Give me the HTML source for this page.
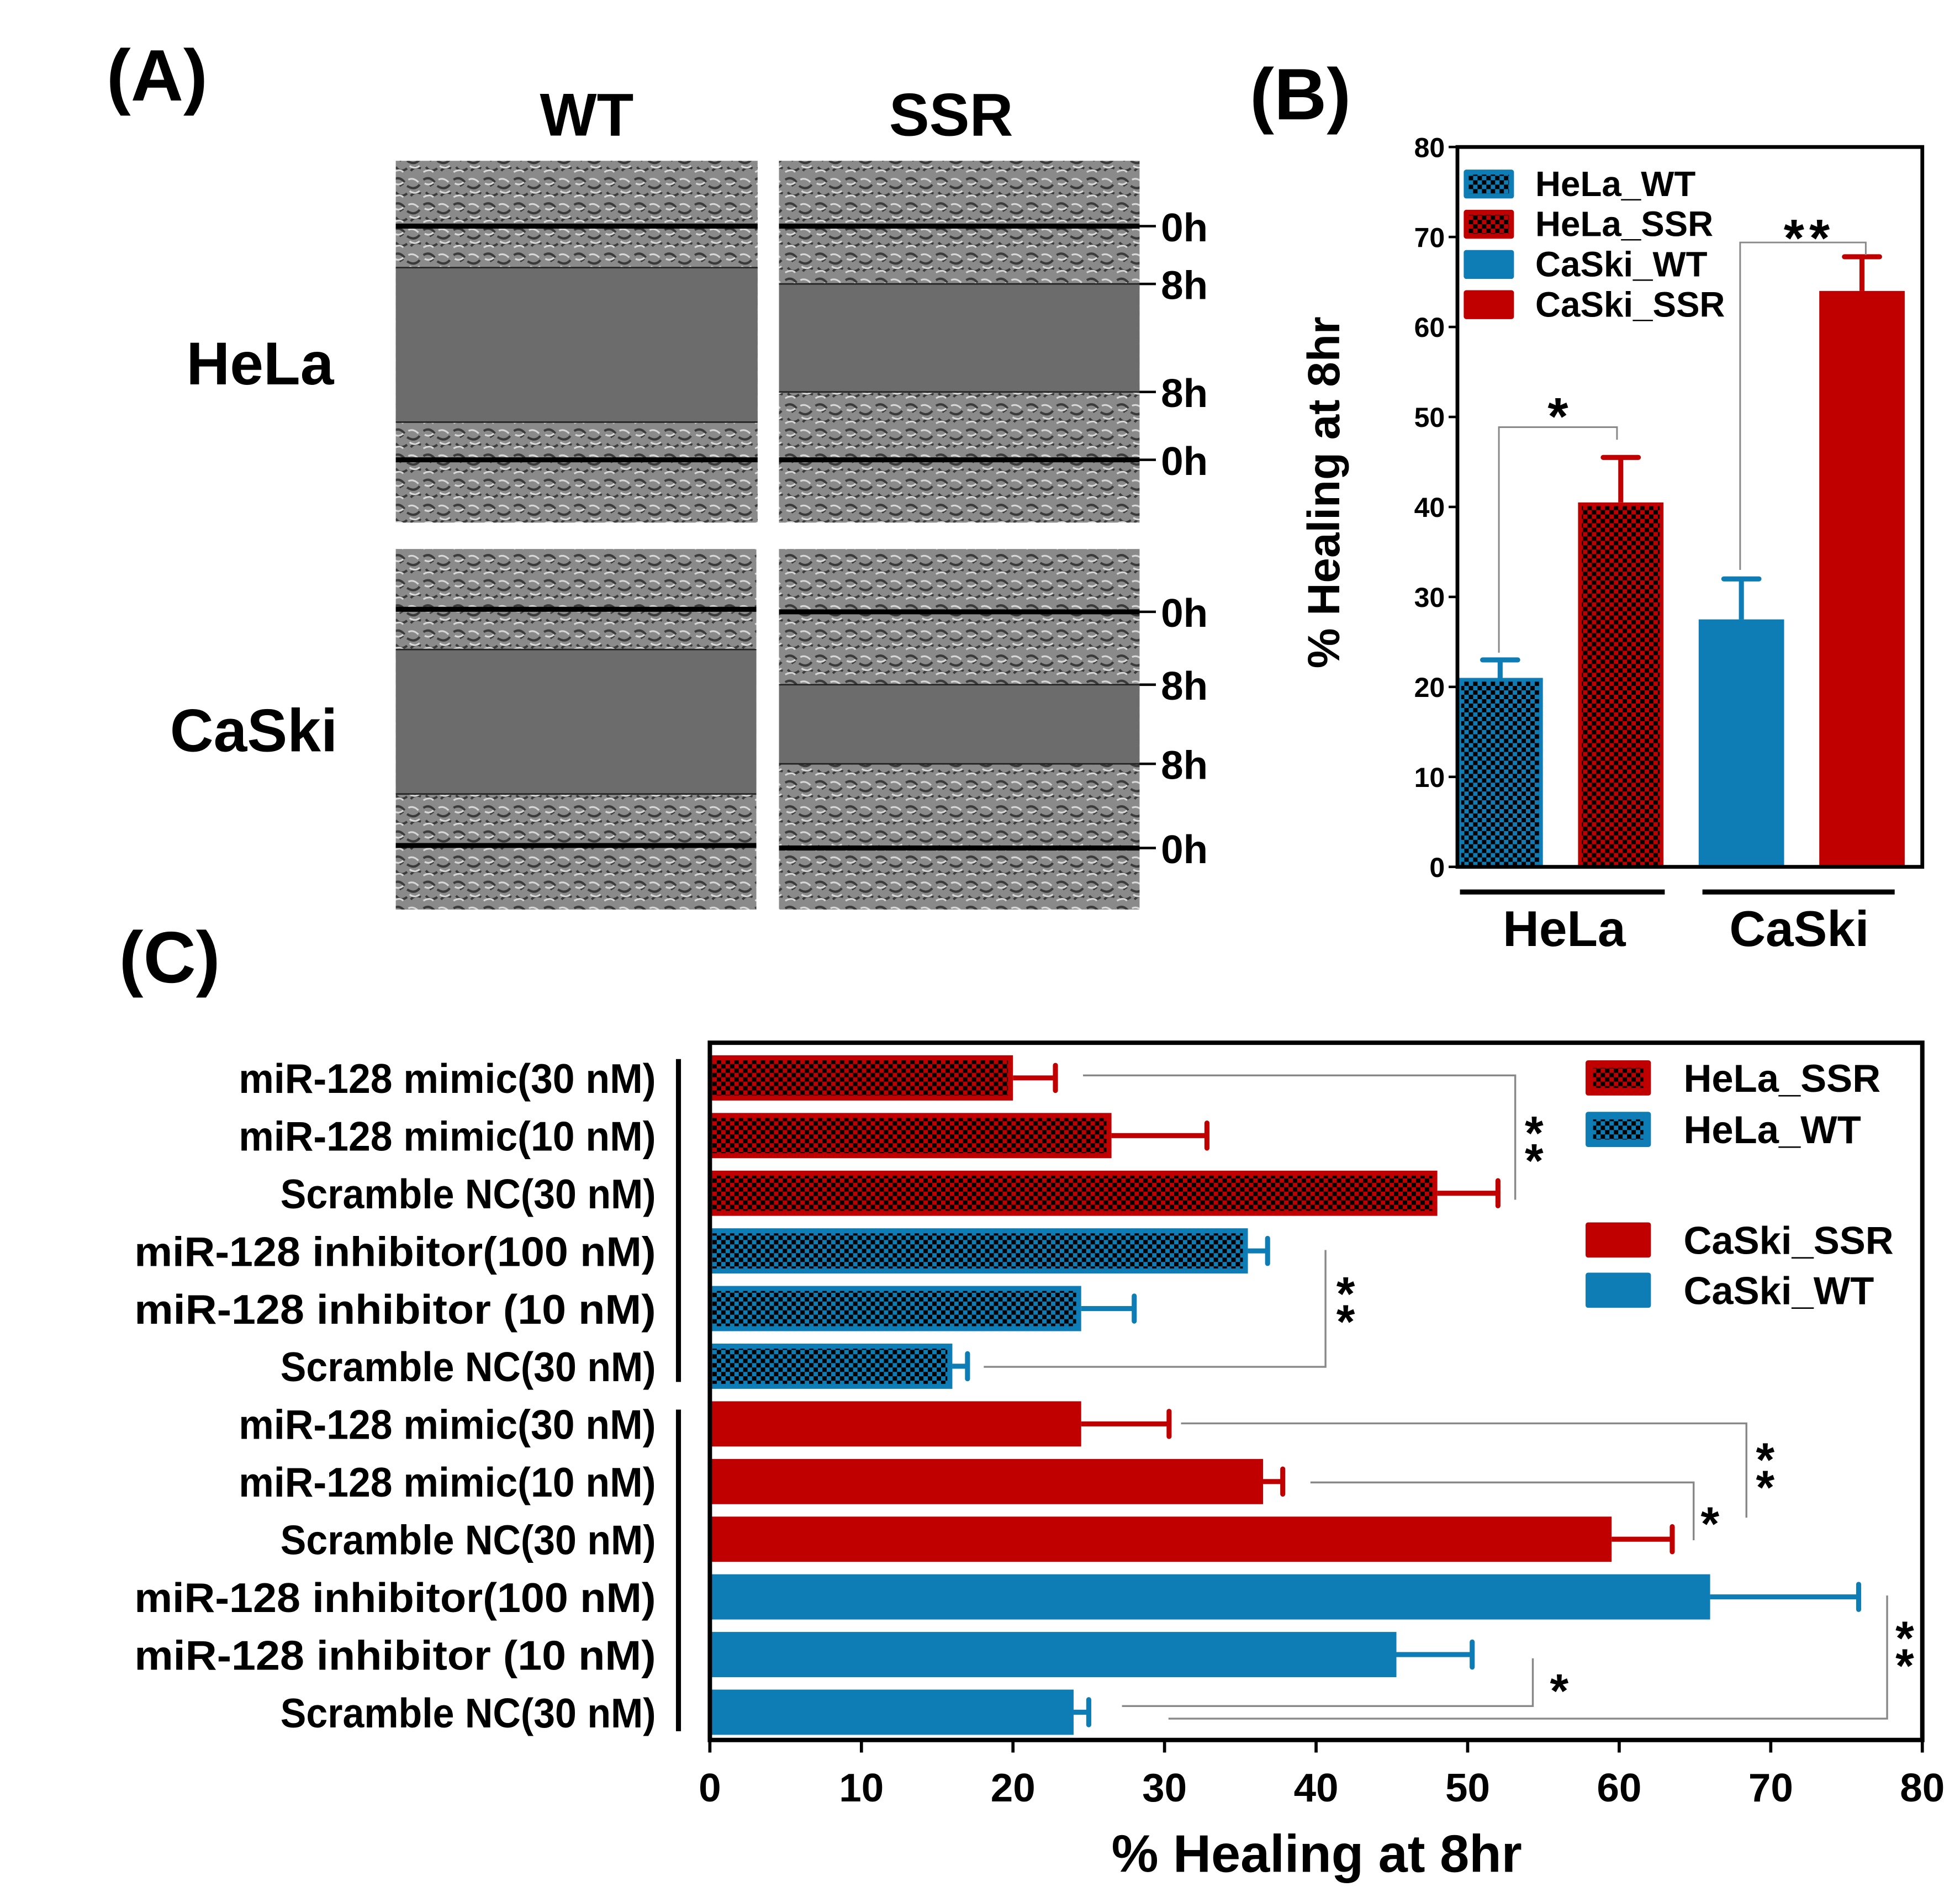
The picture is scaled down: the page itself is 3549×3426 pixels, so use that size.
<!DOCTYPE html>
<html><head><meta charset="utf-8">
<style>
html,body{margin:0;padding:0;background:#fff;}
svg{display:block;font-family:"Liberation Sans",sans-serif;font-weight:bold;}
</style></head>
<body>
<svg id="fig" width="3549" height="3426" viewBox="0 0 1560 1506" preserveAspectRatio="none" xmlns="http://www.w3.org/2000/svg">
<defs>
<pattern id="chkB" width="7" height="7" patternUnits="userSpaceOnUse"><rect x="0" y="0" width="3.5" height="3.5" fill="#000"/><rect x="3.5" y="3.5" width="3.5" height="3.5" fill="#000"/></pattern>
<pattern id="cells" width="24" height="20" patternUnits="userSpaceOnUse">
<rect width="24" height="20" fill="#8a8a8a"/>
<path d="M1 3 q5 -3 9 2 M12 8 q6 4 10 -1 M3 13 q4 5 9 1 M15 16 q3 -4 8 -2 M6 8 l3 -2" stroke="#3a3a3a" stroke-width="1.8" fill="none"/>
<path d="M2 6 q4 2 7 -1 M13 3 q4 -2 8 2 M1 17 q5 -3 8 0 M14 12 q4 3 8 0" stroke="#d8d8d8" stroke-width="1.4" fill="none"/>
</pattern>
</defs>
<g id="panelA"></g>
<g id="panelB"></g>
<g id="panelC"></g>
</svg>
<script>
// ---------- Panel B data ----------
const bCategories = ["HeLa_WT","HeLa_SSR","CaSki_WT","CaSki_SSR"];
const bValues = [21, 40.5, 27.5, 64];
const bErrors = [2, 5, 4.5, 3.8];
const bTicks = [0,10,20,30,40,50,60,70,80];
// ---------- Panel C data ----------
const cCategories = ["miR-128 mimic(30 nM)","miR-128 mimic(10 nM)","Scramble NC(30 nM)","miR-128 inhibitor(100 nM)","miR-128 inhibitor (10 nM)","Scramble NC(30 nM)","miR-128 mimic(30 nM)","miR-128 mimic(10 nM)","Scramble NC(30 nM)","miR-128 inhibitor(100 nM)","miR-128 inhibitor (10 nM)","Scramble NC(30 nM)"];
const cSeries = ["HeLa_SSR","HeLa_SSR","HeLa_SSR","HeLa_WT","HeLa_WT","HeLa_WT","CaSki_SSR","CaSki_SSR","CaSki_SSR","CaSki_WT","CaSki_WT","CaSki_WT"];
const cValues = [20, 26.5, 48, 35.5, 24.5, 16, 24.5, 36.5, 59.5, 66, 45.3, 24];
const cErrors = [2.8, 6.3, 4, 1.3, 3.5, 1, 5.8, 1.3, 4, 9.8, 5, 1];
const cTicks = [0,10,20,30,40,50,60,70,80];

const NS="http://www.w3.org/2000/svg";
function mk(parent,tag,attrs,text){const e=document.createElementNS(NS,tag);for(const k in attrs)e.setAttribute(k,attrs[k]);if(text!==undefined)e.textContent=text;parent.appendChild(e);return e;}
const BLUE="#0f7db5", RED="#c00000";
const fills={HeLa_WT:[BLUE,true],HeLa_SSR:[RED,true],CaSki_WT:[BLUE,false],CaSki_SSR:[RED,false]};

// ---------- Panel A ----------
const A=document.getElementById('panelA');
let t;
t=mk(A,'text',{x:125,y:80,'font-size':58,'text-anchor':'middle'},'(A)');

t=mk(A,'text',{x:467,y:108,'font-size':48,'text-anchor':'middle'},'WT');

t=mk(A,'text',{x:757,y:108,'font-size':48,'text-anchor':'middle'},'SSR');

t=mk(A,'text',{x:207,y:306,'font-size':48,'text-anchor':'middle'},'HeLa');

t=mk(A,'text',{x:202,y:598,'font-size':48,'text-anchor':'middle'},'CaSki');

const imgs=[
 {n:'hela-wt-image',x:315,y:128,w:288,h:288,t0:180,t8:213,b8:336,b0:366,lab:false},
 {n:'hela-ssr-image',x:620,y:128,w:287,h:288,t0:180,t8:226,b8:312,b0:366,lab:true},
 {n:'caski-wt-image',x:315,y:437,w:287,h:287,t0:485,t8:517,b8:632,b0:673,lab:false},
 {n:'caski-ssr-image',x:620,y:437,w:287,h:287,t0:487,t8:545,b8:608,b0:675,lab:true}];
imgs.forEach(im=>{
 const g=mk(A,'g',{});
 
 mk(g,'rect',{x:im.x,y:im.y,width:im.w,height:im.h,fill:'url(#cells)'});
 mk(g,'rect',{x:im.x,y:im.t8,width:im.w,height:im.b8-im.t8,fill:'#6c6c6c'});
 mk(g,'line',{x1:im.x,x2:im.x+im.w,y1:im.t0,y2:im.t0,stroke:'#000','stroke-width':4});
 mk(g,'line',{x1:im.x,x2:im.x+im.w,y1:im.b0,y2:im.b0,stroke:'#000','stroke-width':4});
 mk(g,'line',{x1:im.x,x2:im.x+im.w,y1:im.t8,y2:im.t8,stroke:'#222','stroke-width':1.2});
 mk(g,'line',{x1:im.x,x2:im.x+im.w,y1:im.b8,y2:im.b8,stroke:'#222','stroke-width':1.2});
 if(im.lab){
  [[im.t0,'0h'],[im.t8,'8h'],[im.b8,'8h'],[im.b0,'0h']].forEach(p=>{
   mk(g,'line',{x1:907,x2:920,y1:p[0],y2:p[0],stroke:'#000','stroke-width':2});
   const tl=mk(g,'text',{x:924,y:p[0]+12,'font-size':32},p[1]);
   
  });
 }
});

// ---------- Panel B ----------
const B=document.getElementById('panelB');
const bx0=1160,bx1=1530,by0=690,by1=117;
const byS=v=>by0-(v/80)*(by0-by1);
t=mk(B,'text',{x:1035,y:95,'font-size':58,'text-anchor':'middle'},'(B)');

bTicks.forEach(v=>{
 mk(B,'line',{x1:bx0-7,x2:bx0,y1:byS(v),y2:byS(v),stroke:'#000','stroke-width':2});
 const tl=mk(B,'text',{x:bx0-10,y:byS(v)+8,'font-size':22,'text-anchor':'end'},v);
 
});
t=mk(B,'text',{x:0,y:0,'font-size':36,'text-anchor':'middle',transform:'translate(1066,392) rotate(-90)'},'% Healing at 8hr');

const bBarW=68, bStep=96;
bCategories.forEach((c,i)=>{
 const x=bx0+i*bStep, y=byS(bValues[i]), f=fills[c];
 const g=mk(B,'g',{});
 
 const ye=byS(bValues[i]+bErrors[i]), cx=x+bBarW/2;
 mk(g,'line',{x1:cx,x2:cx,y1:ye,y2:y,stroke:f[0],'stroke-width':4});
 mk(g,'line',{x1:cx-14,x2:cx+14,y1:ye,y2:ye,stroke:f[0],'stroke-width':4,'stroke-linecap':'round'});
 mk(g,'rect',{x:x,y:y,width:bBarW,height:by0-y,fill:f[0]});
 if(f[1]) mk(g,'rect',{x:x+3,y:y+3,width:bBarW-6,height:by0-y-3,fill:'url(#chkB)'});
});
mk(B,'rect',{x:bx0,y:by1,width:bx1-bx0,height:by0-by1,fill:'none',stroke:'#000','stroke-width':3});
[[1162,1325,1245,'HeLa'],[1355,1508,1432,'CaSki']].forEach(gp=>{
 const l=mk(B,'line',{x1:gp[0],x2:gp[1],y1:710,y2:710,stroke:'#000','stroke-width':4});
 
 const tl=mk(B,'text',{x:gp[2],y:753,'font-size':40,'text-anchor':'middle'},gp[3]);
 
});
bCategories.forEach((c,i)=>{
 const y=135+i*32, f=fills[c];
 const g=mk(B,'g',{});
 
 mk(g,'rect',{x:1165,y:y,width:40,height:23,fill:f[0],rx:2});
 if(f[1]) mk(g,'rect',{x:1169,y:y+4,width:32,height:15,fill:'url(#chkB)'});
 mk(g,'text',{x:1222,y:y+21,'font-size':28},c);
});
const sig1=mk(B,'path',{d:`M1193 ${byS(23.8)} V340 H1287 V350`,fill:'none',stroke:'#888','stroke-width':1.3});

t=mk(B,'text',{x:1240,y:346,'font-size':42,'text-anchor':'middle'},'*');

const sig2=mk(B,'path',{d:`M1385 ${byS(33)} V193 H1485 V203`,fill:'none',stroke:'#888','stroke-width':1.3});

t=mk(B,'text',{x:1440,y:204,'font-size':42,'text-anchor':'middle','letter-spacing':4},'**');


// ---------- Panel C ----------
const C=document.getElementById('panelC');
const cx0=565,cx1=1530,cy0=830,cy1=1385;
const cxS=v=>cx0+(v/80)*(cx1-cx0);
const rowY=i=>858+i*45.9;
t=mk(C,'text',{x:135,y:782,'font-size':58,'text-anchor':'middle'},'(C)');

cCategories.forEach((c,i)=>{
 const y=rowY(i), f=fills[cSeries[i]], w=cxS(cValues[i])-cx0;
 const g=mk(C,'g',{});
 
 const xe=cxS(cValues[i]+cErrors[i]);
 mk(g,'line',{x1:cx0+w,x2:xe,y1:y,y2:y,stroke:f[0],'stroke-width':4});
 mk(g,'line',{x1:xe,x2:xe,y1:y-10,y2:y+10,stroke:f[0],'stroke-width':4,'stroke-linecap':'round'});
 mk(g,'rect',{x:cx0,y:y-18,width:w,height:36,fill:f[0]});
 if(f[1]) mk(g,'rect',{x:cx0+2,y:y-14,width:w-6,height:28,fill:'url(#chkB)'});
 const tl=mk(C,'text',{x:522,y:y+12,'font-size':33,'text-anchor':'end',textLength:Math.min(420,c.length*16.6),lengthAdjust:'spacingAndGlyphs'},c);
 
});
mk(C,'rect',{x:cx0,y:cy0,width:cx1-cx0,height:cy1-cy0,fill:'none',stroke:'#000','stroke-width':3.5});
cTicks.forEach(v=>{
 mk(C,'line',{x1:cxS(v),x2:cxS(v),y1:cy1,y2:cy1+10,stroke:'#000','stroke-width':2.5});
 const tl=mk(C,'text',{x:cxS(v),y:1434,'font-size':32,'text-anchor':'middle'},v);
 
});
t=mk(C,'text',{x:1048,y:1490,'font-size':42,'text-anchor':'middle'},'% Healing at 8hr');

[[843,1100],[1122,1378]].forEach(s=>{
 const l=mk(C,'line',{x1:540,x2:540,y1:s[0],y2:s[1],stroke:'#000','stroke-width':4});
 
});
[["HeLa_SSR",858],["HeLa_WT",899],["CaSki_SSR",987],["CaSki_WT",1027]].forEach(e=>{
 const f=fills[e[0]];
 const g=mk(C,'g',{});
 
 mk(g,'rect',{x:1262,y:e[1]-14,width:52,height:28,fill:f[0],rx:2});
 if(f[1]) mk(g,'rect',{x:1268,y:e[1]-8,width:40,height:16,fill:'url(#chkB)'});
 mk(g,'text',{x:1340,y:e[1]+11,'font-size':31},e[0]);
});
// significance C: [path, starX, starCenterY, count]
[["M862 856 H1206 V955",1221,912,2],["M783 1088 H1055 V995",1071,1040,2],["M940 1133 H1390 V1208",1405,1172,2],["M1043 1180 H1348 V1226",1361,1212,1],["M893 1358 H1220 V1320",1241,1345,1],["M930 1368 H1502 V1270",1516,1314,2]].forEach(s=>{
 const p=mk(C,'path',{d:s[0],fill:'none',stroke:'#888','stroke-width':1.5});
 
 for(let k=0;k<s[3];k++){
  const yy=s[2]+(s[3]===2?(k===0?-11:11):0)+14;
  const tl=mk(C,'text',{x:s[1],y:yy,'font-size':38,'text-anchor':'middle'},'*');
  
 }
});
</script>
</body></html>
